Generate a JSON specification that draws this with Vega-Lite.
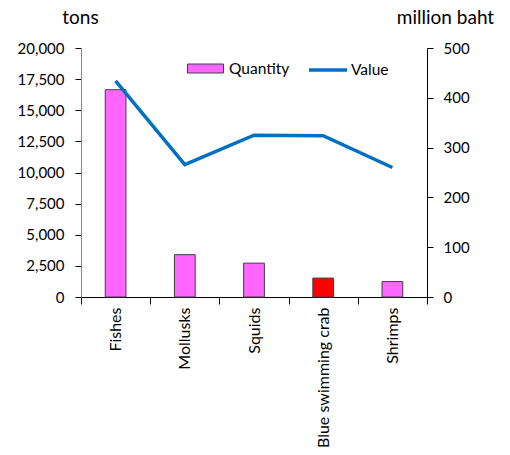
{
  "$schema": "https://vega.github.io/schema/vega-lite/v6.json",
  "width": 346,
  "height": 249,
  "autosize": {"type": "none"},
  "padding": {"left": 81, "top": 48, "right": 83, "bottom": 158},
  "background": "white",
  "config": {
    "view": {"stroke": null},
    "font": "Lato",
    "axis": {
      "grid": false,
      "labelFont": "Lato",
      "labelFontSize": 15,
      "labelColor": "#000000",
      "titleFont": "Lato",
      "titleFontSize": 19,
      "titleFontWeight": "normal",
      "titleColor": "#000000",
      "domainColor": "#000000",
      "tickColor": "#000000"
    },
    "legend": {"labelFont": "Lato", "labelFontSize": 15.5, "labelColor": "#000000"}
  },
  "data": {
    "values": [
      {"category": "Fishes", "quantity": 16650, "value": 434, "qs": "Quantity", "vs": "Value"},
      {"category": "Mollusks", "quantity": 3400, "value": 266, "qs": "Quantity", "vs": "Value"},
      {"category": "Squids", "quantity": 2720, "value": 325, "qs": "Quantity", "vs": "Value"},
      {"category": "Blue swimming crab", "quantity": 1520, "value": 324, "qs": "Quantity", "vs": "Value"},
      {"category": "Shrimps", "quantity": 1240, "value": 260, "qs": "Quantity", "vs": "Value"}
    ]
  },
  "encoding": {
    "x": {
      "field": "category",
      "type": "nominal",
      "sort": null,
      "scale": {"paddingInner": 0, "paddingOuter": 0},
      "axis": {"title": null, "labelAngle": -90, "labelFontSize": 16, "tickBand": "extent", "tickSize": 7, "labelPadding": 3, "domainColor": "#000000"}
    }
  },
  "layer": [
    {
      "mark": {"type": "bar", "width": {"band": 0.3}, "stroke": "#404040", "strokeWidth": 1},
      "encoding": {
        "y": {
          "field": "quantity",
          "type": "quantitative",
          "scale": {"domain": [0, 20000]},
          "axis": {
            "values": [0, 2500, 5000, 7500, 10000, 12500, 15000, 17500, 20000],
            "format": ",d",
            "title": "tons",
            "titleAngle": 0,
            "titleX": -1,
            "titleY": -31,
            "titleAlign": "center",
            "titleBaseline": "middle",
            "tickSize": 6,
            "labelPadding": 11,
            "domainColor": "#868686"
          }
        },
        "fill": {
          "condition": {"test": "datum.category === 'Blue swimming crab'", "value": "#FF0000"},
          "field": "qs",
          "type": "nominal",
          "scale": {"domain": ["Quantity"], "range": ["#FF66FF"]},
          "legend": {
            "orient": "none",
            "legendX": 106,
            "legendY": 2,
            "direction": "horizontal",
            "title": null,
            "symbolType": "M-1,-0.25H1V0.25H-1Z",
            "symbolSize": 1296,
            "symbolStrokeColor": "#404040",
            "symbolStrokeWidth": 1,
            "labelOffset": 5
          }
        }
      }
    },
    {
      "mark": {"type": "line", "strokeWidth": 3.5},
      "encoding": {
        "y": {
          "field": "value",
          "type": "quantitative",
          "scale": {"domain": [0, 500]},
          "axis": {
            "orient": "right",
            "values": [0, 100, 200, 300, 400, 500],
            "title": "million baht",
            "titleAngle": 0,
            "titleX": 18,
            "titleY": -31,
            "titleAlign": "center",
            "titleBaseline": "middle",
            "tickSize": 6,
            "labelPadding": 10
          }
        },
        "stroke": {
          "field": "vs",
          "type": "nominal",
          "scale": {"domain": ["Value"], "range": ["#0070C0"]},
          "legend": {
            "orient": "none",
            "legendX": 226,
            "legendY": 1,
            "direction": "horizontal",
            "title": null,
            "symbolType": "stroke",
            "symbolSize": 1444,
            "symbolStrokeWidth": 3.5,
            "labelOffset": 2
          }
        }
      }
    }
  ],
  "resolve": {"scale": {"y": "independent"}}
}
